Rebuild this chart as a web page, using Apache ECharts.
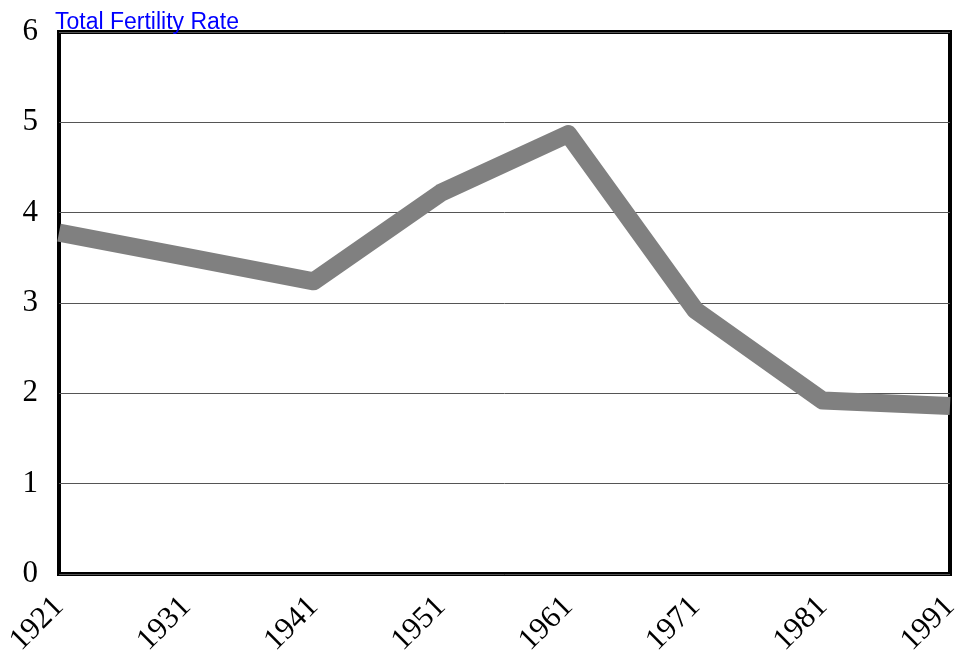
<!DOCTYPE html>
<html>
<head>
<meta charset="utf-8">
<script src="https://cdn.jsdelivr.net/npm/echarts@6/dist/echarts.min.js"></script>
<style>
  html, body { margin:0; padding:0; background:#fff; }
  #main { width:956px; height:654px; }
</style>
</head>
<body>
<div id="main"></div>
<script type="text/javascript">
// census years and total fertility rate
var years = ['1921', '1931', '1941', '1951', '1961', '1971', '1981', '1991'];
var tfr = [3.78, 3.51, 3.24, 4.22, 4.87, 2.92, 1.92, 1.86];

var myChart = echarts.init(document.getElementById('main'));

var option = {
    animation: false,
    title: {
        text: 'Total Fertility Rate',
        left: 55,
        top: 11,
        padding: 0,
        textStyle: {
            fontFamily: 'Liberation Sans',
            fontSize: 23,
            fontWeight: 'normal',
            color: '#0000ff'
        }
    },
    grid: {
        left: 59,
        right: 6,
        top: 32,
        bottom: 80,
        show: true,
        borderColor: '#000',
        borderWidth: 4,
        backgroundColor: '#fff',
        containLabel: false,
        outerBoundsMode: 'none'
    },
    xAxis: {
        type: 'category',
        data: years,
        boundaryGap: false,
        axisLine: { show: false },
        axisTick: { show: false },
        splitLine: { show: false },
        axisLabel: {
            rotate: 45,
            margin: 28,
            fontFamily: 'Liberation Serif',
            fontSize: 31,
            color: '#000'
        }
    },
    yAxis: {
        type: 'value',
        min: 0,
        max: 6,
        interval: 1,
        axisLine: { show: false },
        axisTick: { show: false },
        splitLine: { lineStyle: { color: '#555', width: 1 } },
        axisLabel: {
            margin: 21,
            fontFamily: 'Liberation Serif',
            fontSize: 31,
            color: '#000'
        }
    },
    series: [{
        type: 'line',
        data: tfr,
        symbol: 'none',
        clip: true,
        lineStyle: { color: '#808080', width: 18, join: 'round' }
    }]
};

myChart.setOption(option);
window.addEventListener('resize', myChart.resize);
</script>
</body>
</html>
